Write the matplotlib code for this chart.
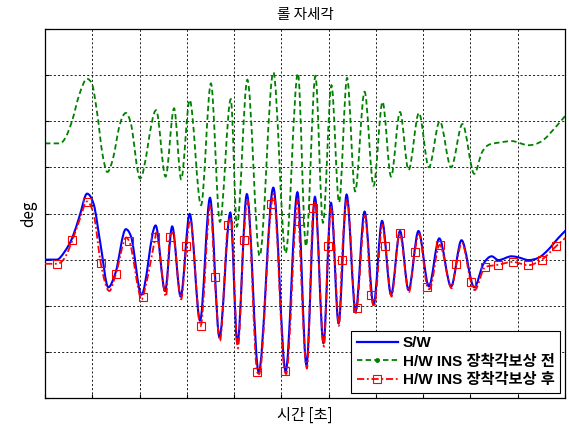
import numpy as np
import matplotlib
matplotlib.use("Agg")
import matplotlib.pyplot as plt
from matplotlib.lines import Line2D
from matplotlib.path import Path
from matplotlib.patches import PathPatch

# 시간 [초] / deg 값
blue_x = [0, 2.5, 4.2, 5.8, 7.3, 8.9, 10.3, 11.7, 13.4, 14.9, 17.1, 18.2, 20.4, 23.4, 25.4,
          26.9, 28.7, 30.6, 32.8, 34.9, 36.9, 39.2, 40.7, 42.7, 45.2, 48.3, 50.9, 53.4, 55.3,
          57.1, 58.9, 60.5, 62.1, 63.8, 65.7, 67.6, 69.5, 71.3, 73.2, 75.1, 76.9, 79.0, 81.2,
          83.4, 85.9, 88.1, 90.8, 92.7, 94.5, 95.9, 98.7, 100.1, 102.3, 104.4, 106.5, 108.6, 110.4]
blue_y = [0, 0, 0.9, 2.4, 4.7, 7.15, 6.0, 1.8, -3.0, -1.45, 3.3, 2.5, -3.8, 3.7, -3.4,
          3.6, -4.0, 4.95, -6.6, 6.7, -8.4, 5.1, -9.1, 7.1, -12.2, 7.8, -12.1, 7.3, -11.4,
          6.8, -9.05, 6.15, -6.9, 7.05, -5.6, 5.2, -4.9, 4.2, -3.8, 3.1, -3.3, 3.1, -2.9,
          2.3, -2.9, 2.1, -3.0, -0.5, 0.36, -0.05, 0.36, 0.25, -0.05, 0.2, 1.1, 2.35, 3.3]

green_x = [0, 3.2, 4.3, 5.7, 7.2, 8.9, 9.9, 11.0, 12.2, 13.2, 14.4, 15.8, 17.1, 18.1, 20.1,
           23.5, 25.5, 27.3, 28.8, 30.6, 33.0, 35.1, 37.0, 39.3, 40.6, 42.8, 45.4, 48.3, 50.9,
           53.5, 55.2, 57.2, 58.8, 60.6, 62.2, 63.9, 65.6, 67.6, 69.5, 71.4, 73.2, 75.1, 76.9,
           79.1, 81.2, 83.5, 85.9, 88.3, 90.8, 92.4, 94.1, 96.2, 98.7, 102.3, 105.1, 107.9, 110.4]
green_y = [12.6, 12.6, 13.2, 15.0, 17.8, 19.6, 19.1, 16.0, 11.3, 9.5, 11.0, 14.6, 15.9, 14.9, 8.8,
           16.2, 9.0, 16.4, 8.7, 17.3, 5.9, 19.1, 4.1, 17.4, 3.6, 19.5, 0.4, 20.3, 0.7,
           20.2, 1.45, 19.9, 4.0, 18.9, 6.2, 19.7, 7.4, 18.2, 8.0, 17.1, 9.0, 16.0, 9.7,
           15.9, 10.0, 15.0, 10.0, 14.7, 9.3, 11.6, 12.5, 12.7, 12.85, 12.4, 12.85, 14.3, 15.8]

red_x = [0, 2.0, 4.3, 7.5, 10.3, 13.6, 17.2, 20.5, 23.5, 25.6, 27.0, 28.8, 30.7, 35.0, 37.0,
         39.3, 40.8, 42.8, 45.3, 48.3, 51.0, 53.5, 55.4, 57.1, 59.0, 60.6, 62.2, 63.9, 65.8,
         67.7, 69.6, 71.4, 73.3, 77.0, 79.1, 81.3, 86.0, 88.2, 90.9, 110.4]
red_y = [-0.45, -0.45, 0.3, 4.6, 4.9, -3.4, 2.4, -4.3, 2.9, -4.0, 2.9, -4.3, 4.3, 6.0, -8.8,
         4.6, -9.6, 6.5, -12.4, 7.1, -12.4, 6.6, -11.8, 6.2, -9.4, 5.7, -7.2, 6.5, -5.8,
         4.8, -5.1, 3.8, -4.0, -3.5, 2.8, -3.2, -3.1, 1.8, -3.3, 2.5]

# 빨간 선 위의 사각 마커 위치
mark_x = [2.6, 5.8, 8.85, 11.8, 15.0, 17.8, 20.7, 23.35, 26.4, 29.9, 32.9, 35.9, 38.7, 42.0,
          44.9, 47.9, 50.7, 53.7, 56.75, 59.9, 62.8, 66.0, 69.0, 72.0, 75.0, 78.2, 80.9, 83.5,
          87.0, 90.1, 93.1, 95.9, 98.9, 102.2, 105.1, 108.1]
mark_y = [-0.45, 2.1, 6.3, -0.4, -1.55, 2.0, -4.0, 2.5, 2.5, 1.45, -7.2, -1.9, 3.8, 2.1,
          -12.2, 6.0, -12.1, 4.2, 5.6, 1.5, 0.0, -5.2, -3.8, 1.5, 2.9, 0.8, -3.0, 1.6,
          -0.45, -2.4, -0.8, -0.55, -0.25, -0.6, 0.0, 1.45]

labels = ['S/W', 'H/W INS 장착각보상 전', 'H/W INS 장착각보상 후']

kfont = ['Noto Sans CJK KR', 'DejaVu Sans']
lfont = ['Liberation Sans', 'Noto Sans CJK KR']

BLUE = (0, 0, 1)
GREEN = (0, 0.5, 0)
RED = (1, 0, 0)
GREEN_LS = (0, (3, 1.8))
RED_LS = (0, (4, 1.5, 1, 1.5))


def smooth_path(x, y):
    # 읽은 점들을 지나가는 부드러운 곡선 (monotone cubic bezier)
    x = np.asarray(x, float)
    y = np.asarray(y, float)
    h = np.diff(x)
    s = np.diff(y) / h
    m = np.zeros_like(y)
    for k in range(1, len(x) - 1):
        if s[k - 1] * s[k] > 0:
            p = (s[k - 1] * h[k] + s[k] * h[k - 1]) / (h[k - 1] + h[k])
            m[k] = np.sign(s[k]) * min(abs(s[k - 1]), abs(s[k]), 0.5 * abs(p)) * 2
    m[0] = s[0]
    m[-1] = s[-1]
    verts = [(x[0], y[0])]
    codes = [Path.MOVETO]
    for k in range(len(h)):
        d = h[k] / 3
        verts += [(x[k] + d, y[k] + m[k] * d), (x[k + 1] - d, y[k + 1] - m[k + 1] * d),
                  (x[k + 1], y[k + 1])]
        codes += [Path.CURVE4] * 3
    return Path(verts, codes)


# 빨간 선 = 극값 + 마커 점 합치기
rx = np.array(red_x + mark_x)
ry = np.array(red_y + mark_y)
order = np.argsort(rx, kind='stable')
rx, ry = rx[order], ry[order]

fig = plt.figure(figsize=(5.69, 4.24), dpi=100)
ax = fig.add_axes([0.0791, 0.0613, 0.9139, 0.8703])

ax.add_patch(PathPatch(smooth_path(green_x, green_y), fill=False, ec=GREEN, lw=1.3,
                       ls=GREEN_LS, zorder=2))
ax.add_patch(PathPatch(smooth_path(blue_x, blue_y), fill=False, ec=BLUE, lw=1.5,
                       zorder=3))
ax.add_patch(PathPatch(smooth_path(rx, ry), fill=False, ec=RED, lw=1.3,
                       ls=RED_LS, zorder=4))
ax.plot(mark_x, mark_y, ls='none', marker='s', ms=6, mfc='none', mec=RED, mew=0.8, zorder=5)

ax.set_xlim(0, 110)
ax.set_ylim(-15, 25)
ax.set_xticks(np.arange(0, 111, 10))
ax.set_yticks(np.arange(-15, 26, 5))
ax.set_xticklabels([])
ax.set_yticklabels([])
ax.tick_params(direction='in', length=3, width=0.8)
ax.grid(True, color='k', ls=(0, (2.5, 2.5)), lw=0.6)
for s in ax.spines.values():
    s.set_linewidth(0.9)

ax.set_title('롤 자세각', family=kfont, fontsize=10.5, pad=7)
ax.set_xlabel('시간 [초]', family=kfont, fontsize=11, labelpad=3)
ax.set_ylabel('deg', family=kfont, fontsize=11, labelpad=2)

handles = [
    Line2D([], [], color=BLUE, lw=1.6),
    Line2D([], [], color=GREEN, lw=1.3, ls=GREEN_LS, marker='.', ms=5),
    Line2D([], [], color=RED, lw=1.3, ls=RED_LS, marker='s', ms=6,
           mfc='none', mec=RED, mew=0.8),
]
leg = ax.legend(handles, labels, loc='lower right',
                prop={'family': lfont, 'weight': 'bold', 'size': 11},
                fancybox=False, framealpha=1, edgecolor='k', handlelength=2.7,
                labelspacing=0.3, borderaxespad=0.35, handletextpad=0.3, borderpad=0.35)
leg.get_frame().set_linewidth(0.8)

fig.savefig('out.png', dpi=100)
